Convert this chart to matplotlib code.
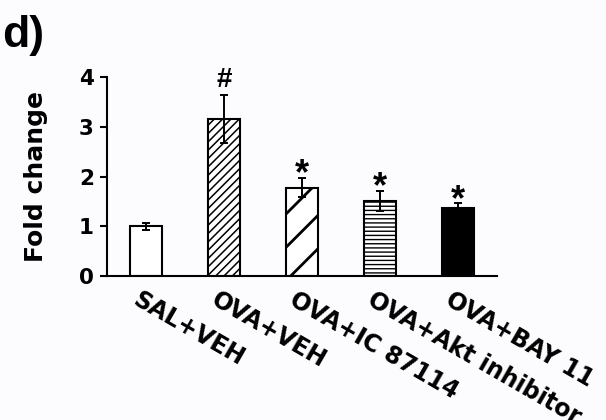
import matplotlib
matplotlib.use('Agg')
import matplotlib.pyplot as plt
from matplotlib.transforms import ScaledTranslation

# Fold change per group, panel d
groups = ['SAL+VEH', 'OVA+VEH', 'OVA+IC 87114', 'OVA+Akt inhibitor', 'OVA+BAY 11']
fold_change = [1.00, 3.16, 1.78, 1.51, 1.36]
sem = [0.07, 0.49, 0.20, 0.20, 0.10]
marks = ['', '#', '*', '*', '*']

fills = ['white', 'white', 'white', 'white', 'black']
hatches = [None, '////', '/', '----', None]
hatch_lw = [1.0, 1.1, 2.0, 1.0, 1.0]

plt.rcParams['font.family'] = ['Liberation Sans', 'DejaVu Sans']
plt.rcParams['font.weight'] = 'bold'
wide = ['DejaVu Sans']

fig = plt.figure(figsize=(6.06, 4.2), dpi=100, facecolor='#fcfcfe')
ax = fig.add_axes([0.1766, 0.343, 0.6436, 0.473])
ax.set_facecolor('#fcfcfe')

x = list(range(len(groups)))
for i in x:
    plt.rcParams['hatch.linewidth'] = hatch_lw[i]
    ax.bar(i, fold_change[i], width=0.41, color=fills[i], edgecolor='black',
           linewidth=1.5, hatch=hatches[i], zorder=2)
    ax.errorbar(i, fold_change[i], yerr=sem[i], fmt='none', ecolor='black',
                elinewidth=1.4, capsize=3, capthick=1.4, zorder=3)
    if marks[i] == '#':
        ax.annotate('#', (i, fold_change[i] + sem[i]), xytext=(0, 5.5),
                    textcoords='offset points', ha='center', va='baseline',
                    fontsize=20, fontweight='bold')
    elif marks[i] == '*':
        ax.annotate('*', (i, fold_change[i] + sem[i]), xytext=(0, -4.5),
                    textcoords='offset points', ha='center', va='baseline',
                    fontsize=26, fontweight='bold')

ax.set_xlim(-0.5, 4.5)
ax.set_ylim(0, 4)
ax.set_yticks([0, 1, 2, 3, 4])
ax.tick_params(axis='y', length=5, width=1.5, pad=4.5)
ax.tick_params(axis='x', length=0, pad=8)
ax.spines['top'].set_visible(False)
ax.spines['right'].set_visible(False)
ax.spines['left'].set_linewidth(1.5)
ax.spines['bottom'].set_linewidth(1.5)
for lab in ax.get_yticklabels():
    lab.set_family(wide)
    lab.set_fontsize(15.5)
    lab.set_fontweight('bold')

ax.set_xticks(x)
ax.set_xticklabels(groups, rotation=-30, ha='left', va='top',
                   rotation_mode='anchor', fontsize=17, fontweight='bold',
                   family=wide)
shift = ScaledTranslation(-5 / 100, 0, fig.dpi_scale_trans)
for lab in ax.get_xticklabels():
    lab.set_transform(lab.get_transform() + shift)

ax.set_ylabel('Fold change', fontsize=18, fontweight='bold', labelpad=22,
              family=wide)

fig.text(0.003, 0.965, 'd)', fontsize=32, fontweight='bold', va='top', ha='left')

fig.savefig('out.png', dpi=100, facecolor=fig.get_facecolor())
